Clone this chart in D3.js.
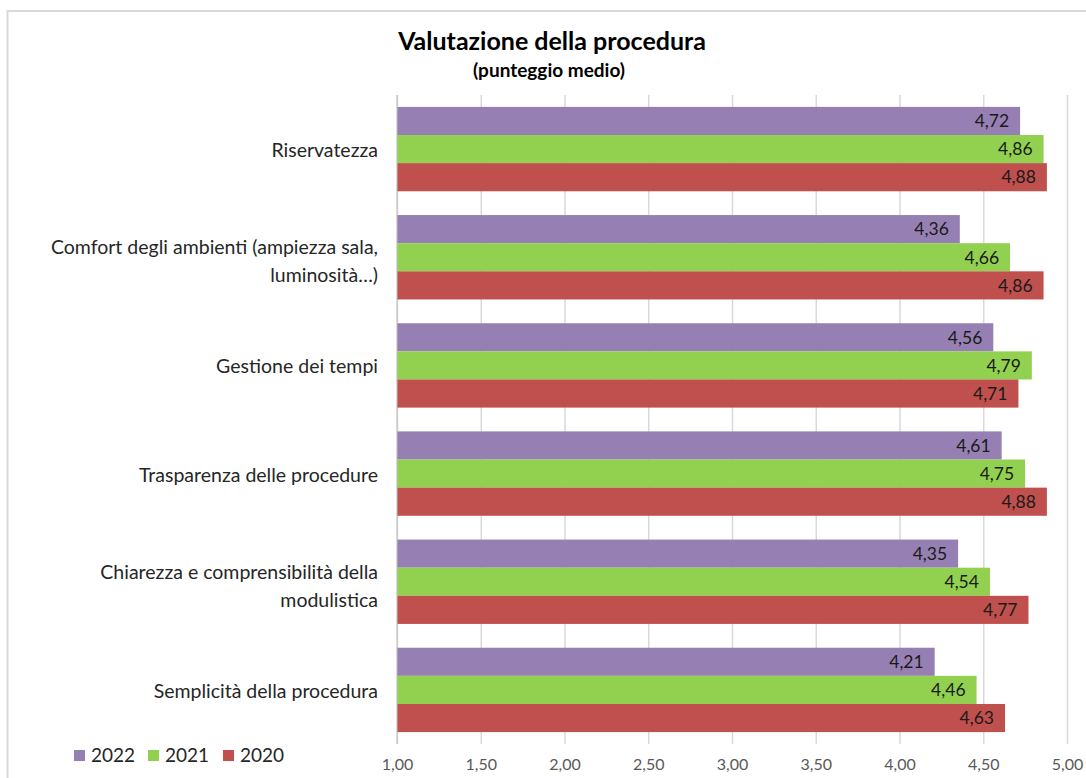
<!DOCTYPE html>
<html>
<head>
<meta charset="utf-8">
<script src="https://cdn.jsdelivr.net/npm/d3@7"></script>
<style>
  body { margin: 0; background: #fff; }
  svg { display: block; font-family: Lato, "Open Sans", sans-serif; }
</style>
</head>
<body>
<div id="chart"></div>
<script>
// categories (top to bottom), "\n" marks where the label wraps
const categories = [
  "Riservatezza",
  "Comfort degli ambienti (ampiezza sala,\nluminosità…)",
  "Gestione dei tempi",
  "Trasparenza delle procedure",
  "Chiarezza e comprensibilità della\nmodulistica",
  "Semplicità della procedura"
];
const seriesNames = ["2022", "2021", "2020"];
const values2022 = [4.72, 4.36, 4.56, 4.61, 4.35, 4.21];
const values2021 = [4.86, 4.66, 4.79, 4.75, 4.54, 4.46];
const values2020 = [4.88, 4.86, 4.71, 4.88, 4.77, 4.63];
const tickValues = [1, 1.5, 2, 2.5, 3, 3.5, 4, 4.5, 5];

const colors = { "2022": "#9680b3", "2021": "#92d050", "2020": "#c0504d" };
const seriesValues = { "2022": values2022, "2021": values2021, "2020": values2020 };

const width = 1086, height = 778;
const plot = { left: 397, right: 1067, top: 95, bottom: 744 };
const fmt = v => d3.format(".2f")(v).replace(".", ",");

const svg = d3.select("#chart").append("svg")
  .attr("width", width)
  .attr("height", height);

svg.append("rect").attr("width", width).attr("height", height).attr("fill", "#fff");

// chart border (only left and top edges are in frame)
svg.append("rect")
  .attr("x", 7.5).attr("y", 11)
  .attr("width", 1200).attr("height", 900)
  .attr("fill", "none")
  .attr("stroke", "#d9d9d9")
  .attr("stroke-width", 2);

const x = d3.scaleLinear().domain([1, 5]).range([plot.left, plot.right]);
const y0 = d3.scaleBand()
  .domain(categories)
  .range([plot.top, plot.bottom])
  .paddingInner(0.22)
  .paddingOuter(0.11);
const y1 = d3.scaleBand().domain(seriesNames).range([0, y0.bandwidth()]);

// gridlines + tick labels
const xAxis = d3.axisBottom(x)
  .tickValues(tickValues)
  .tickSize(-(plot.bottom - plot.top))
  .tickPadding(15)
  .tickFormat(fmt);

const gx = svg.append("g")
  .attr("transform", `translate(0,${plot.bottom})`)
  .call(xAxis);
gx.select(".domain").remove();
gx.selectAll(".tick line").attr("stroke", "#d9d9d9").attr("stroke-width", 1.5);
gx.selectAll(".tick text")
  .attr("fill", "#595959")
  .style("font-size", "16px")
  .style("font-family", "Lato, sans-serif");

// bars
const groups = svg.append("g").selectAll("g")
  .data(categories)
  .join("g")
  .attr("transform", d => `translate(0,${y0(d)})`);

const barData = (c, i) => seriesNames.map(s => ({ series: s, value: seriesValues[s][i] }));

groups.selectAll("rect")
  .data(barData)
  .join("rect")
  .attr("x", x(1))
  .attr("y", d => y1(d.series))
  .attr("width", d => x(d.value) - x(1))
  .attr("height", y1.bandwidth())
  .attr("fill", d => colors[d.series]);

groups.selectAll("text.val")
  .data(barData)
  .join("text")
  .attr("class", "val")
  .attr("x", d => x(d.value) - 11)
  .attr("y", d => y1(d.series) + y1.bandwidth() / 2)
  .attr("dy", "0.36em")
  .attr("text-anchor", "end")
  .attr("fill", "#1a1a1a")
  .style("font-size", "17.5px")
  .text(d => fmt(d.value));

// category axis line
svg.append("line")
  .attr("x1", x(1)).attr("x2", x(1))
  .attr("y1", plot.top).attr("y2", plot.bottom)
  .attr("stroke", "#bfbfbf")
  .attr("stroke-width", 1);

// category labels
const lineH = 28;
svg.append("g").selectAll("text")
  .data(categories)
  .join("text")
  .attr("text-anchor", "end")
  .attr("fill", "#262626")
  .style("font-size", "19.5px")
  .each(function (d) {
    const lines = d.split("\n");
    const cy = y0(d) + y0.bandwidth() / 2 + 1;
    const start = cy - (lines.length - 1) * lineH / 2 + (lines.length > 1 ? 3 : 0);
    d3.select(this).selectAll("tspan")
      .data(lines)
      .join("tspan")
      .attr("x", 378)
      .attr("y", (l, i) => start + i * lineH)
      .attr("dy", "0.36em")
      .text(l => l);
  });

// title
svg.append("text")
  .attr("x", 552).attr("y", 50)
  .attr("text-anchor", "middle")
  .attr("fill", "#000")
  .style("font-size", "25px")
  .style("font-weight", "bold")
  .text("Valutazione della procedura");

svg.append("text")
  .attr("x", 549).attr("y", 77)
  .attr("text-anchor", "middle")
  .attr("fill", "#000")
  .style("font-size", "19px")
  .style("font-weight", "bold")
  .text("(punteggio medio)");

// legend
const legendX = [74, 148, 223];
const legend = svg.append("g").selectAll("g")
  .data(seriesNames)
  .join("g")
  .attr("transform", (d, i) => `translate(${legendX[i]},750)`);
legend.append("rect")
  .attr("width", 11).attr("height", 11)
  .attr("fill", d => colors[d]);
legend.append("text")
  .attr("x", 17).attr("y", 5.5)
  .attr("dy", "0.36em")
  .attr("fill", "#262626")
  .style("font-size", "19px")
  .text(d => d);
</script>
</body>
</html>
